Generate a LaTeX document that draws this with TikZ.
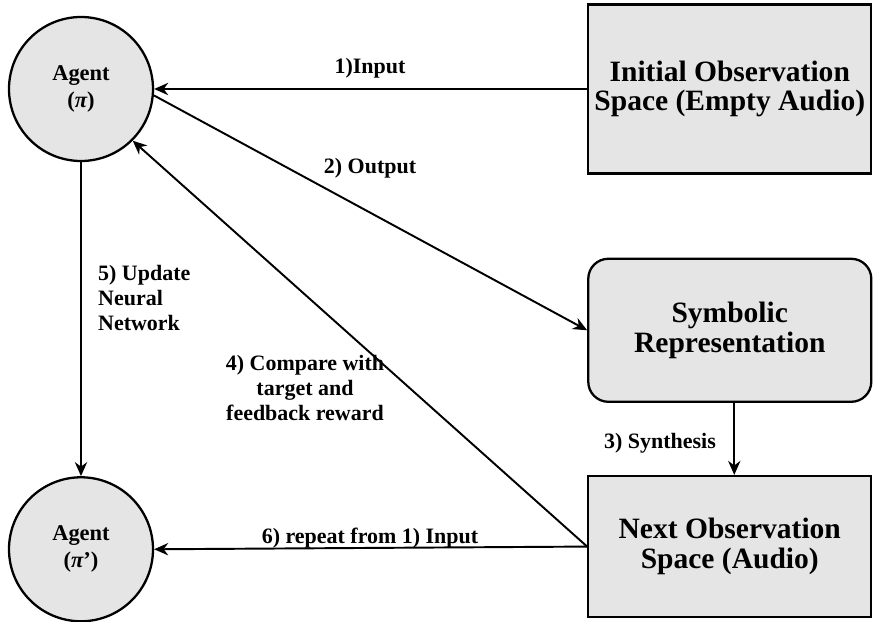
\documentclass[tikz,border=0pt]{standalone}
\usepackage{fontspec}
\setmainfont{Liberation Serif}
\usetikzlibrary{arrows.meta,positioning}
\tikzstyle{agent}=[
	circle,
	draw,
	line width=1.3pt,
	fill=black!10,
	minimum size=2.88cm,
	align=center,
	font=\fontsize{12.8}{15.3}\selectfont\bfseries
]
\tikzstyle{obsspace}=[
	rectangle,
	draw,
	line width=1.3pt,
	fill=black!10,
	minimum width=5.66cm,
	minimum height=3.38cm,
	align=center,
	font=\fontsize{16.8}{17}\selectfont\bfseries
]
\tikzstyle{symbolic}=[
	obsspace,
	rounded corners=0.4cm,
	minimum height=2.86cm
]
\tikzstyle{flow}=[
	->,
	>={Stealth[length=8pt,width=7pt]},
	line width=1.1pt
]
\tikzstyle{steplabel}=[
	align=center,
	font=\fontsize{12.5}{14.2}\selectfont\bfseries
]

\begin{document}
\begin{tikzpicture}
\useasboundingbox (-1.62,-10.66) rectangle (15.86,1.78);
\node [agent] (Agent) {Agent\\({\itshape π})};
\node [agent] (NextAgent)[below=6.28cm of Agent] {Agent\\({\itshape π}’)};
\node [obsspace] (InitialSpace)[right=8.66cm of Agent] {Initial Observation\\Space (Empty Audio)}
	edge [flow] (Agent);
\node [symbolic] (Symbolic)[below=1.66cm of InitialSpace] {Symbolic\\Representation};
\node [obsspace, minimum height=2.82cm] (NextSpace)[below=1.44cm of Symbolic] {Next Observation\\Space (Audio)};

\draw [flow] (Agent.-5) -- (Symbolic.west);
\draw [flow] ([xshift=0.09cm]Symbolic.south) -- ([xshift=0.09cm]NextSpace.north);
\draw [flow] (NextSpace.west) -- (Agent.-45);
\draw [flow] (Agent.south) -- (NextAgent.north);
\draw [flow] (NextSpace.west) -- (NextAgent.east);

% step labels
\node [steplabel] (InputLabel) at (5.78,0.42) {1)Input};
\node [steplabel] (OutputLabel) at (5.78,-1.58) {2) Output};
\node [steplabel] (SynthLabel) at (11.58,-7.08) {3) Synthesis};
\node [steplabel] (CompareLabel) at (4.48,-5.98) {4) Compare with\\target and\\feedback reward};
\node [steplabel, anchor=west, align=left] (UpdateLabel) at (0.22,-4.18) {5) Update\\Neural\\Network};
\node [steplabel] (RepeatLabel) at (5.78,-8.98) {6) repeat from 1) Input};
\end{tikzpicture}
\end{document}
